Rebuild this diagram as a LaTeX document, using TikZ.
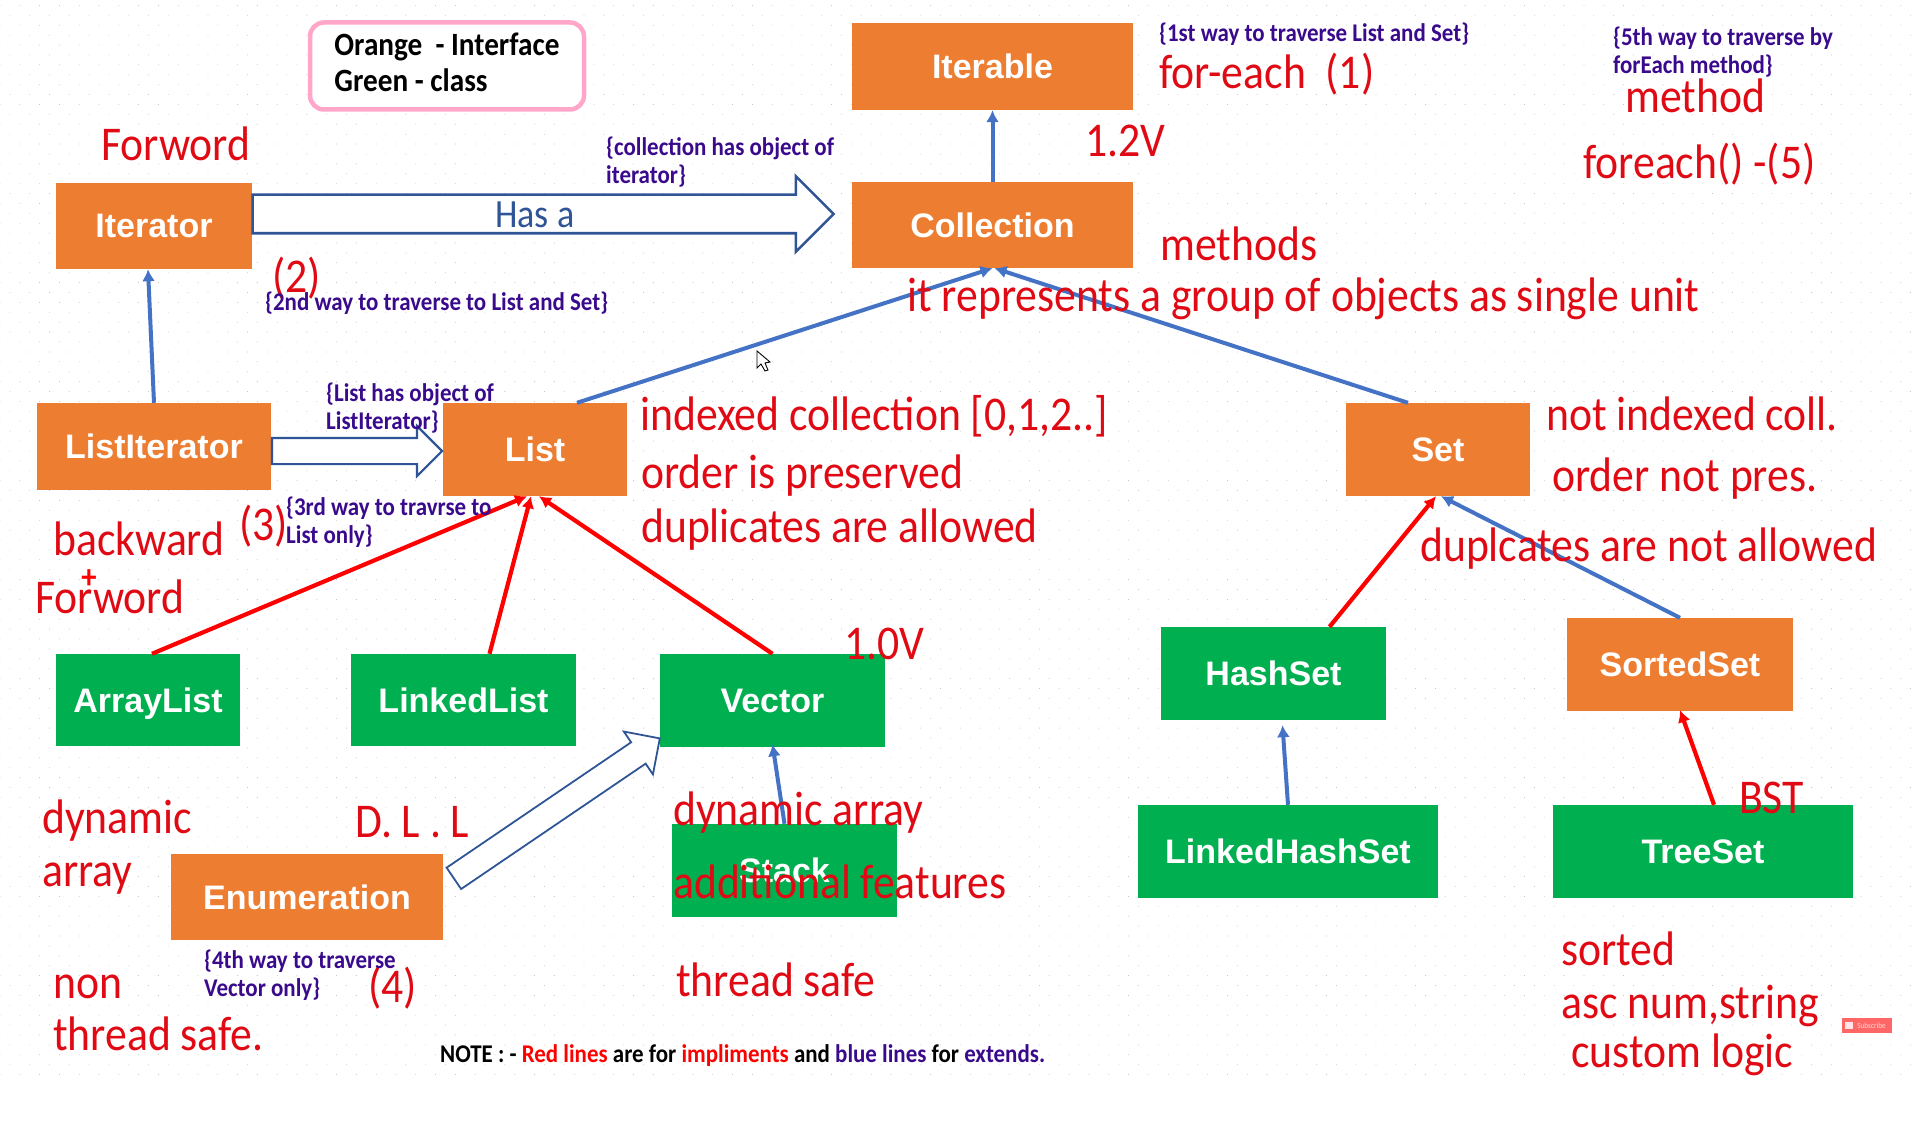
\documentclass[tikz,border=0pt]{standalone}
\usepackage{fontspec}
\setmainfont[FakeStretch=0.9]{Carlito}
\newfontfamily\boxfont{Liberation Sans}
\usepackage{tikz}
\usetikzlibrary{arrows.meta,shapes.arrows,patterns.meta}
\definecolor{ifaceorange}{HTML}{ED7D31}
\definecolor{classgreen}{HTML}{00B050}
\definecolor{extblue}{HTML}{4472C4}
\definecolor{hasblue}{HTML}{2F5597}
\definecolor{notered}{HTML}{E00A14}
\definecolor{wayindigo}{HTML}{3A0A8C}
\definecolor{legendpink}{HTML}{FFA6C9}
\begin{document}
\begin{tikzpicture}[x=1pt, y=-1pt,
    box/.style={inner sep=0pt, text=white, text height=24pt, text depth=0pt, font=\boxfont\bfseries\fontsize{34}{40}\selectfont},
    iface/.style={box, fill=ifaceorange},
    cls/.style={box, fill=classgreen},
    extends/.style={draw=extblue, line width=4pt, -{Latex[length=12pt,width=13pt]}},
    impl/.style={draw=red, line width=4.2pt, -{Latex[length=12pt,width=13pt]}},
    hasarrow/.style={single arrow, draw=hasblue, fill=white, inner xsep=0pt, single arrow tip angle=90, anchor=center},
    note/.style={anchor=base west, inner sep=0pt, yshift=-3.5pt, text=notered, font=\fontsize{48.5}{58}\selectfont},
    way/.style={anchor=base west, inner sep=0pt, yshift=-1pt, align=left, text=wayindigo, font=\bfseries\fontsize{25.5}{28}\selectfont}]
    \useasboundingbox (0,0) rectangle (1920,1134);
    \fill[pattern={Dots[distance=14pt,angle=45,radius=.55pt]}, pattern color=black!22] (0,0) rectangle (1920,1076);
    \node[draw=legendpink, line width=4.5pt, rounded corners=14pt, fill=white, minimum width=274pt, minimum height=87pt, align=left, inner sep=0pt, text depth=8pt, font=\bfseries\fontsize{32.5}{36.5}\selectfont] (legend) at (447,66) {Orange\ \ - Interface\\Green - class};
    \node[iface, minimum width=281pt, minimum height=87pt] (iterable) at (992.5,66.5) {Iterable};
    \node[iface, minimum width=281pt, minimum height=86pt] (collection) at (992.5,225) {Collection};
    \node[iface, minimum width=196pt, minimum height=86pt] (iterator) at (154,226) {Iterator};
    \node[iface, minimum width=234pt, minimum height=87pt] (listiterator) at (154,446.5) {ListIterator};
    \node[iface, minimum width=184pt, minimum height=93pt] (list) at (535,449.5) {List};
    \node[iface, minimum width=184pt, minimum height=93pt] (set) at (1438,449.5) {Set};
    \node[cls, minimum width=184pt, minimum height=92pt] (arraylist) at (148,700) {ArrayList};
    \node[cls, minimum width=225pt, minimum height=92pt] (linkedlist) at (463.5,700) {LinkedList};
    \node[cls, minimum width=225pt, minimum height=93pt] (vector) at (772.5,700.5) {Vector};
    \node[iface, minimum width=272pt, minimum height=86pt] (enumeration) at (307,897) {Enumeration};
    \node[cls, minimum width=225pt, minimum height=93pt] (stack) at (784.5,870.5) {Stack};
    \node[cls, minimum width=225pt, minimum height=93pt] (hashset) at (1273.5,673.5) {HashSet};
    \node[iface, minimum width=226pt, minimum height=93pt] (sortedset) at (1680,664.5) {SortedSet};
    \node[cls, minimum width=300pt, minimum height=93pt] (linkedhashset) at (1288,851.5) {LinkedHashSet};
    \node[cls, minimum width=300pt, minimum height=93pt] (treeset) at (1703,851.5) {TreeSet};
    \draw[extends] (collection.north) -- (iterable.south);
    \draw[extends] (listiterator.north) -- ([xshift=-6pt]iterator.south);
    \draw[extends] ([xshift=42pt]list.north) -- (collection.south);
    \draw[extends] ([xshift=-30pt]set.north) -- ([xshift=2pt]collection.south);
    \draw[extends] (sortedset.north) -- ([xshift=3pt]set.south);
    \draw[extends] (linkedhashset.north) -- ([xshift=9pt,yshift=-5pt]hashset.south);
    \draw[extends] (stack.north) -- ([yshift=3pt]vector.south);
    \draw[impl] ([xshift=4pt]arraylist.north) -- ([xshift=-8pt]list.south);
    \draw[impl] ([xshift=26pt]linkedlist.north) -- ([xshift=-4pt]list.south);
    \draw[impl] (vector.north) -- ([xshift=4pt]list.south);
    \draw[impl] ([xshift=56pt]hashset.north) -- ([xshift=-2pt]set.south);
    \draw[impl] ([xshift=11pt]treeset.north) -- ([yshift=1pt]sortedset.south);
    \node[hasarrow, line width=2.6pt, minimum height=581pt, inner ysep=18pt, single arrow head extend=18.5pt] (hasaarrow) at (533.5,214) {};
    \node[hasarrow, line width=2.2pt, minimum height=170pt, inner ysep=12pt, single arrow head extend=12pt] (listarrow) at (350.5,451) {};
    \node[hasarrow, line width=1.8pt, minimum height=249pt, inner ysep=12pt, single arrow head extend=13pt, rotate=34.2] (enumarrow) at (551.5,812) {};
    \node[anchor=base west, inner sep=0pt, text=hasblue, font=\fontsize{40}{44}\selectfont] (hasa) at (495,228) {Has a};
    \draw[fill=white, draw=black, line width=.9pt] (757,351) -- (757,368) -- (761,364) -- (765,371) -- (768,370) -- (765,363) -- (770,362) -- cycle;
    \node[note] (forword) at (101,157) {Forword};
    \node[note] (backward) at (53,551.5) {backward};
    \node[anchor=center, inner sep=0pt, text=red, font=\bfseries\fontsize{34}{40}\selectfont] (plus) at (89,579) {+};
    \node[note] (forwordb) at (35,610) {Forword};
    \node[note] (two) at (272,289) {(2)};
    \node[note] (three) at (239,537) {(3)};
    \node[note] (four) at (368,999) {(4)};
    \node[note] (foreach) at (1159,85) {for-each\ \ (1)};
    \node[note] (method) at (1625,109) {method};
    \node[note] (foreachm) at (1583,175) {foreach() -(5)};
    \node[note] (vone) at (1085,153) {1.2V};
    \node[note] (methods) at (1160,257) {methods};
    \node[note] (represents) at (907,308) {it represents a group of objects as single unit};
    \node[note] (indexed) at (640,427) {indexed collection [0,1,2..]};
    \node[note] (preserved) at (641,485) {order is preserved};
    \node[note] (dups) at (641,539) {duplicates are allowed};
    \node[note] (notindexed) at (1546,427) {not indexed coll.};
    \node[note] (notpres) at (1552,488) {order not pres.};
    \node[note] (nodups) at (1420,558) {duplcates are not allowed};
    \node[note] (vtwo) at (844,656) {1.0V};
    \node[note] (dynamic) at (42,830) {dynamic};
    \node[note] (array) at (42,883) {array};
    \node[note] (dll) at (355,834) {D. L . L};
    \node[note] (dynarray) at (673,822) {dynamic array};
    \node[note] (additional) at (673,895) {additional features};
    \node[note] (nonsafe) at (53,995) {non};
    \node[note] (threadsafe) at (53,1047) {thread safe.};
    \node[note] (safe) at (676,993) {thread safe};
    \node[note] (bst) at (1739,810) {BST};
    \node[note] (sorted) at (1561,962) {sorted};
    \node[note] (asc) at (1561,1015) {asc num,string};
    \node[note] (custom) at (1571,1064) {custom logic};
    \node[way] (wayone) at (1159,41) {\{1st way to traverse List and Set\}};
    \node[way] (wayfive) at (1613,73) {\{5th way to traverse by\\forEach method\}};
    \node[way] (hasobj) at (606,183) {\{collection has object of\\iterator\}};
    \node[way] (waytwo) at (265,309) {\{2nd way to traverse to List and Set\}};
    \node[way] (listobj) at (326,428) {\{List has object of\\ListIterator\}};
    \node[way] (waythree) at (286,542) {\{3rd way to travrse to\\List only\}};
    \node[way] (wayfour) at (204,995) {\{4th way to traverse\\Vector only\}};
    \node[anchor=base west, inner sep=0pt, font=\bfseries\fontsize{25.5}{28}\selectfont] (notes) at (440,1062) {NOTE : - \textcolor{red}{Red lines} are for \textcolor{red}{impliments} and \textcolor{wayindigo}{blue lines} for \textcolor{wayindigo}{extends.}};
    \node[fill=red!60!white, minimum width=50pt, minimum height=14.5pt, inner sep=0pt, text=white!85!red, font=\fontsize{8}{8}\selectfont] (subscribe) at (1867,1025.5) {\hspace{9pt}Subscribe};
    \fill[white!90!red] (1845,1022) rectangle (1853,1029);
\end{tikzpicture}
\end{document}
